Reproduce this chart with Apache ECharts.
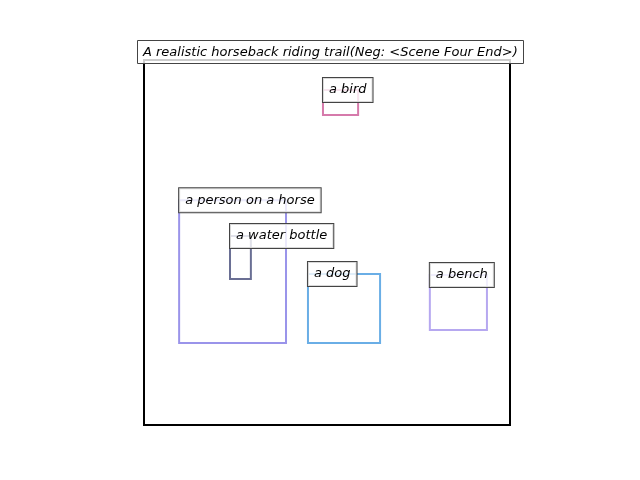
<!DOCTYPE html>
<html><head><meta charset="utf-8">
<script src="https://cdn.jsdelivr.net/npm/echarts@6/dist/echarts.min.js"></script>
<style>html,body{margin:0;background:#fff}#c{width:640px;height:480px}</style>
</head><body><div id="c"></div>
<script>
// box labels, coords as fraction of frame [x0, y0, x1, y1], y from top
var labels = ['a bird', 'a person on a horse', 'a water bottle', 'a dog', 'a bench'];
var boxes = [
  [0.489, 0.082, 0.585, 0.151],
  [0.096, 0.384, 0.388, 0.775],
  [0.235, 0.482, 0.292, 0.600],
  [0.448, 0.586, 0.645, 0.775],
  [0.781, 0.589, 0.937, 0.740]
];
var colors = ['#d67aab', '#9a94ea', '#6a6f94', '#6aaee6', '#b6a8f0'];

var chart = echarts.init(document.getElementById('c'));
var data = boxes.map(function(b, i) { return b.concat([i]); });

chart.setOption({
  animation: false,
  title: {
    text: 'A realistic horseback riding trail(Neg: <Scene Four End>)',
    left: 137, top: 40,
    padding: [6, 6, 5, 6],
    borderWidth: 1, borderColor: '#444',
    backgroundColor: 'rgba(255,255,255,0.8)',
    textStyle: { fontFamily: 'DejaVu Sans', fontStyle: 'italic', fontWeight: 'normal', fontSize: 13, color: '#000' }
  },
  grid: { left: 144, top: 60, width: 366, height: 365, show: true, borderColor: '#000', borderWidth: 2 },
  xAxis: { type: 'value', min: 0, max: 1, show: false },
  yAxis: { type: 'value', min: 0, max: 1, inverse: true, show: false },
  series: [{
    type: 'custom',
    data: data,
    renderItem: function(params, api) {
      var p0 = api.coord([api.value(0), api.value(1)]);
      var p1 = api.coord([api.value(2), api.value(3)]);
      var i = api.value(4);
      return {
        type: 'group',
        children: [{
          type: 'rect',
          shape: { x: p0[0], y: p0[1], width: p1[0] - p0[0], height: p1[1] - p0[1] },
          style: { fill: null, stroke: colors[i], lineWidth: 2 }
        }, {
          type: 'text',
          z2: 10,
          x: p0[0], y: p0[1],
          style: {
            text: labels[i],
            font: 'italic 13px "DejaVu Sans"',
            fill: '#000',
            align: 'left', verticalAlign: 'middle',
            backgroundColor: 'rgba(255,255,255,0.8)',
            borderColor: '#444', borderWidth: 1,
            padding: [6, 6, 5, 6]
          }
        }]
      };
    }
  }]
});
</script></body></html>
